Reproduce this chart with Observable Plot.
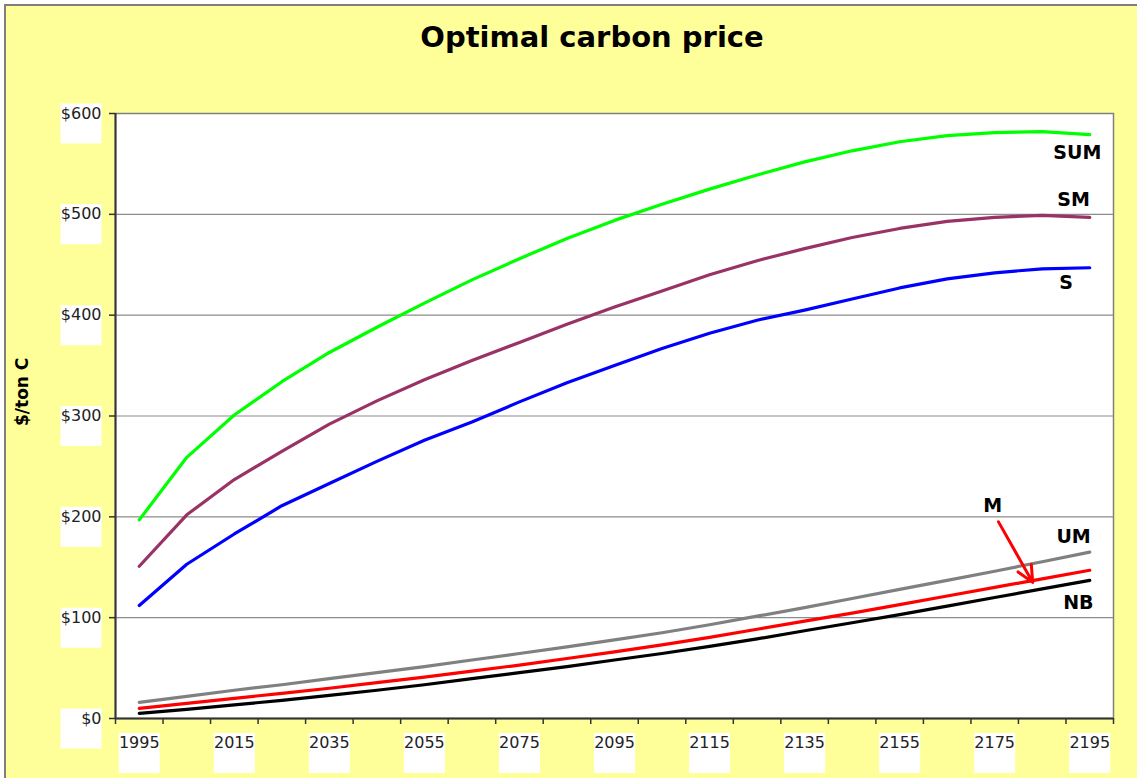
<!DOCTYPE html>
<html>
<head>
<meta charset="utf-8">
<script src="https://cdn.jsdelivr.net/npm/d3@7"></script>
<script src="https://cdn.jsdelivr.net/npm/@observablehq/plot@0.6"></script>
<style>
  html, body { margin: 0; padding: 0; background: #ffffff; width: 1137px; height: 778px; overflow: hidden; }
  #frame { position: absolute; left: 4px; top: 4px; width: 1200px; height: 800px; background: #FFFF99; border: 2px solid #7f7f7f; }
  #title { position: absolute; left: 592px; top: 37px; transform: translate(-50%, -50%); font-family: "DejaVu Sans", Verdana, sans-serif; font-weight: bold; font-size: 29px; color: #000; white-space: nowrap; }
  #chart { position: absolute; left: 0; top: 100px; }
</style>
</head>
<body>
<div id="frame"></div>
<div id="title">Optimal carbon price</div>
<div id="chart"></div>
<script>
// ---- data ----
const years = [1995, 2005, 2015, 2025, 2035, 2045, 2055, 2065, 2075, 2085, 2095, 2105, 2115, 2125, 2135, 2145, 2155, 2165, 2175, 2185, 2195];
const SUM = [197, 259, 301, 334, 363, 388, 412, 435, 456, 476, 494, 510, 525, 539, 552, 563, 572, 578, 581, 582, 579];
const SM  = [151, 202, 237, 265, 292, 315, 336, 355, 373, 391, 408, 424, 440, 454, 466, 477, 486, 493, 497, 499, 497];
const S   = [112, 153, 183, 211, 233, 255, 276, 294, 314, 333, 350, 367, 382, 395, 405, 416, 427, 436, 442, 446, 447];
const UM  = [16, 22, 28, 33.5, 39.5, 45.5, 51.5, 58, 64.5, 71, 78, 85, 93, 101.5, 110, 119, 128, 137, 146, 155.5, 165];
const M   = [10, 15, 20, 25, 30, 35.5, 41, 47, 53, 59.5, 66, 73, 80.5, 88.5, 96.5, 104.5, 113, 121.5, 130, 138.5, 147];
const NB  = [5, 9, 13.5, 18, 23, 28, 33.5, 39.5, 45.5, 51.5, 58, 64.5, 71.5, 79, 87, 95, 103, 111.5, 120, 128.5, 137];

const seriesNames = ["SUM", "SM", "S", "UM", "M", "NB"];
const seriesColors = ["#00FF00", "#993366", "#0000FF", "#808080", "#FF0000", "#000000"];
const yTicks = [0, 100, 200, 300, 400, 500, 600];
const xLabelYears = [1995, 2015, 2035, 2055, 2075, 2095, 2115, 2135, 2155, 2175, 2195];
const xTickMarks = [1990, 2000, 2010, 2020, 2030, 2040, 2050, 2060, 2070, 2080, 2090, 2100, 2110, 2120, 2130, 2140, 2150, 2160, 2170, 2180, 2190, 2200];

// annotation labels anchored in data space (year, $/ton)
const labelText = ["SUM", "SM", "S", "M", "UM", "NB"];
const labelYear = [2192.4, 2191.6, 2190, 2174.6, 2191.6, 2192.6];
const labelValue = [561, 514.5, 432, 210.6, 180, 115];
const arrowFrom = [2175.8, 195];
const arrowTo = [2183, 135];

// ---- build tables ----
const seriesValues = {SUM, SM, S, UM, M, NB};
const rows = [];
for (const name of seriesNames) {
  seriesValues[name].forEach((v, i) => rows.push({series: name, year: years[i], value: v}));
}
const labels = labelText.map((t, i) => ({text: t, year: labelYear[i], value: labelValue[i]}));

const boxSymbol = { draw(ctx) { ctx.rect(-20.5, -20, 41, 40); } };
const font = "DejaVu Sans, Verdana, sans-serif";

const chart = Plot.plot({
  width: 1137,
  height: 678,
  marginLeft: 115,
  marginRight: 24,
  marginTop: 13,
  marginBottom: 60,
  style: {background: "transparent", fontFamily: font, color: "#111"},
  x: {domain: [1990, 2200], axis: null},
  y: {domain: [0, 600], axis: null},
  color: {domain: seriesNames, range: seriesColors},
  marks: [
    Plot.frame({fill: "white", stroke: "#808080", strokeWidth: 1.5}),
    Plot.ruleY(yTicks.filter(d => d > 0 && d < 600), {stroke: "#8c8c8c", strokeWidth: 1.2}),
    // white label boxes
    Plot.dot(yTicks, {y: d => d, frameAnchor: "left", dx: -34.5, dy: 10, symbol: boxSymbol, fill: "white", stroke: null}),
    Plot.dot(xLabelYears, {x: d => d, frameAnchor: "bottom", dy: 34.5, symbol: boxSymbol, fill: "white", stroke: null}),
    // axes
    Plot.axisY({ticks: yTicks, tickFormat: d => "$" + d, tickSize: 6, tickPadding: 8, fontSize: 16, stroke: "#333", strokeWidth: 1.5, fill: "#222"}),
    Plot.axisX({ticks: xTickMarks, tickFormat: () => "", tickSize: 6, stroke: "#333", strokeWidth: 1.5}),
    Plot.axisX({ticks: xLabelYears, tickFormat: d => String(d), tickSize: 0, tickPadding: 18, fontSize: 16, fill: "#222"}),
    Plot.ruleX([1990], {stroke: "#333", strokeWidth: 2}),
    Plot.ruleY([0], {stroke: "#333", strokeWidth: 2}),
    // series
    Plot.line(rows, {x: "year", y: "value", z: "series", stroke: "series", strokeWidth: 3.2, curve: "linear"}),
    // annotations
    Plot.text(labels, {x: "year", y: "value", text: "text", fontWeight: "bold", fontSize: 19, fill: "#000"}),
    Plot.arrow([{x1: arrowFrom[0], y1: arrowFrom[1], x2: arrowTo[0], y2: arrowTo[1]}], {x1: "x1", y1: "y1", x2: "x2", y2: "y2", stroke: "#FF0000", strokeWidth: 3, headLength: 9, headAngle: 50}),
    // y axis title
    Plot.text(["$/ton C"], {frameAnchor: "left", dx: -93, dy: 10, rotate: -90, fontWeight: "bold", fontSize: 17, fill: "#000"})
  ]
});
document.getElementById("chart").appendChild(chart);
</script>
</body>
</html>
